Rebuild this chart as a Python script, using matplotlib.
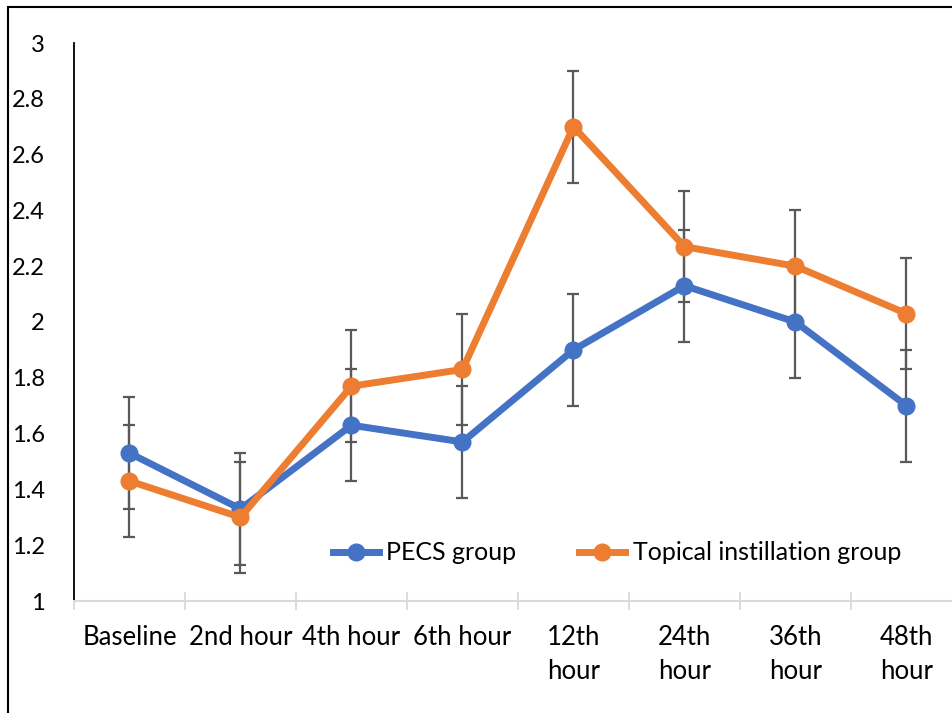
import numpy as np
import matplotlib
matplotlib.use("Agg")
import matplotlib.pyplot as plt
from matplotlib.patches import Rectangle

# ── data ────────────────────────────────────────────────────────────────────
categories = ["Baseline", "2nd hour", "4th hour", "6th hour",
              "12th\nhour", "24th\nhour", "36th\nhour", "48th\nhour"]
pecs = [1.53, 1.33, 1.63, 1.57, 1.90, 2.13, 2.00, 1.70]
pecs_err = [0.2, 0.2, 0.2, 0.2, 0.2, 0.2, 0.2, 0.2]
topical = [1.43, 1.30, 1.77, 1.83, 2.70, 2.27, 2.20, 2.03]
topical_err = [0.2, 0.2, 0.2, 0.2, 0.2, 0.2, 0.2, 0.2]
y_ticks = [1, 1.2, 1.4, 1.6, 1.8, 2, 2.2, 2.4, 2.6, 2.8, 3]
y_labels = ["1", "1.2", "1.4", "1.6", "1.8", "2", "2.2", "2.4", "2.6", "2.8", "3"]

BLUE = "#4472C4"
ORANGE = "#ED7D31"
ERR = "#595959"

plt.rcParams["font.family"] = ["Lato", "DejaVu Sans"]

W, H = 953, 713
fig = plt.figure(figsize=(W / 100, H / 100), dpi=100)
ax = fig.add_axes([74 / W, 1 - 601 / H, 888 / W, 558 / H])

x = np.arange(len(categories)) + 0.5

for vals, errs, col, lab in [(pecs, pecs_err, BLUE, "PECS group"),
                             (topical, topical_err, ORANGE, "Topical instillation group")]:
    ax.errorbar(x, vals, yerr=errs, fmt="none", ecolor=ERR, elinewidth=1.6,
                capsize=4.5, capthick=1.6, zorder=2)
    ax.plot(x, vals, color=col, lw=5, marker="o", ms=12, label=lab, zorder=3)

ax.set_xlim(0, len(categories))
ax.set_ylim(1, 3)
ax.set_yticks(y_ticks)
ax.set_yticklabels(y_labels)
ax.set_xticks(np.arange(len(categories) + 1))
ax.set_xticklabels([])
ax.set_xticks(x, minor=True)
ax.set_xticklabels(categories, minor=True, linespacing=1.45)

ax.tick_params(axis="y", length=0, pad=21, labelsize=17, colors="black")
ax.tick_params(axis="x", which="major", direction="inout", length=13,
               width=1.3, color="#D9D9D9")
ax.tick_params(axis="x", which="minor", length=0, pad=17, labelsize=18.5)

for s in ("top", "right"):
    ax.spines[s].set_visible(False)
ax.spines["left"].set_color("black")
ax.spines["left"].set_linewidth(1.3)
ax.spines["bottom"].set_color("#D9D9D9")
ax.spines["bottom"].set_linewidth(1.5)

ax.legend(loc="center", bbox_to_anchor=(617 / W, 1 - 553 / H),
          bbox_transform=fig.transFigure, ncol=2, frameon=False,
          fontsize=18, handlelength=1.85, handletextpad=0.3, columnspacing=2.5,
          borderaxespad=0)

# outer frame (left and top edges visible)
fig.add_artist(Rectangle((8 / W, -0.1), 1.2, 1.1 - 7 / H, transform=fig.transFigure,
                         fill=False, edgecolor="black", lw=1.5))

fig.savefig("out.png", dpi=100)
